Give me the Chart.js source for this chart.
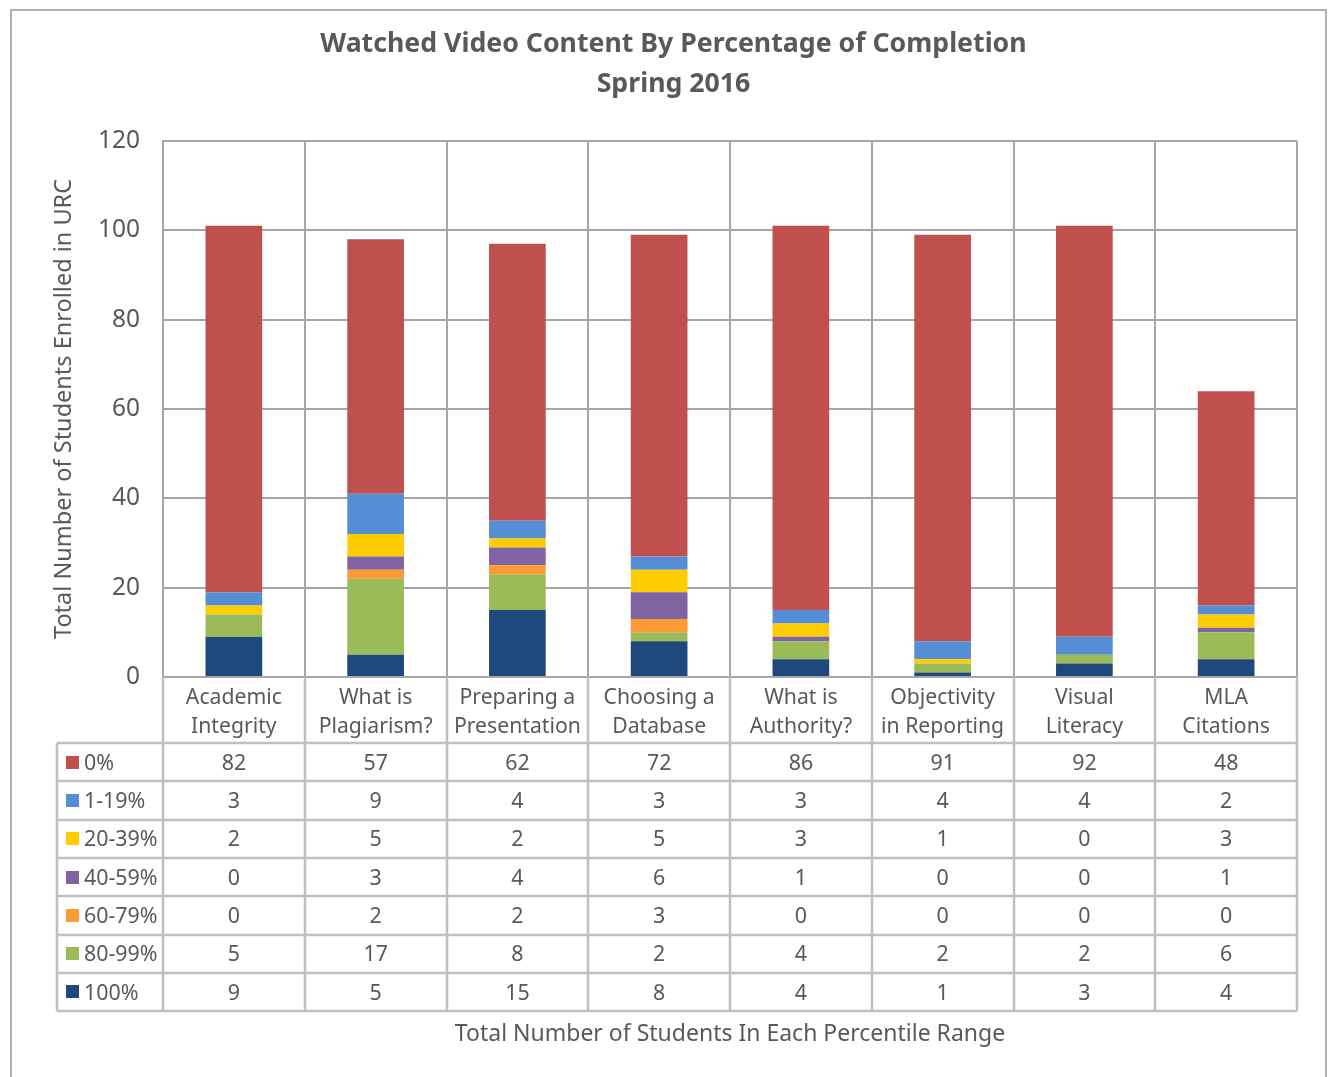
<!DOCTYPE html>
<html>
<head>
<meta charset="utf-8">
<script src="https://cdn.jsdelivr.net/npm/chart.js@4.4.1/dist/chart.umd.min.js"></script>
<style>
  html, body { margin: 0; padding: 0; background: #fff; }
  #wrap { width: 1329px; height: 1077px; }
</style>
</head>
<body>
<div id="wrap"><canvas id="videoChart"></canvas></div>
<script>
const categories = [["Academic", "Integrity"], ["What is", "Plagiarism?"], ["Preparing a", "Presentation"],
    ["Choosing a", "Database"], ["What is", "Authority?"], ["Objectivity", "in Reporting"],
    ["Visual", "Literacy"], ["MLA", "Citations"]];

// rows of the data table, top to bottom
const seriesNames = ["0%", "1-19%", "20-39%", "40-59%", "60-79%", "80-99%", "100%"];
const seriesColors = ["#C0504D", "#558ED5", "#FFCC00", "#8064A2", "#FF9933", "#9BBB59", "#1F497D"];

const pct0 = [82, 57, 62, 72, 86, 91, 92, 48];
const pct1to19 = [3, 9, 4, 3, 3, 4, 4, 2];
const pct20to39 = [2, 5, 2, 5, 3, 1, 0, 3];
const pct40to59 = [0, 3, 4, 6, 1, 0, 0, 1];
const pct60to79 = [0, 2, 2, 3, 0, 0, 0, 0];
const pct80to99 = [5, 17, 8, 2, 4, 2, 2, 6];
const pct100 = [9, 5, 15, 8, 4, 1, 3, 4];
const seriesValues = [pct0, pct1to19, pct20to39, pct40to59, pct60to79, pct80to99, pct100];

const yTicks = [0, 20, 40, 60, 80, 100, 120];

const FONT = "'Noto Sans', 'Open Sans', sans-serif";
const TEXT = "#595959";
const GRID = "#A6A6A6";
const TABLE_LINE = "#BFBFBF";

// stacked bottom-up: 100% first, 0% last
const datasets = [];
for (let i = seriesNames.length - 1; i >= 0; i--) {
  datasets.push({
    label: seriesNames[i],
    data: seriesValues[i],
    backgroundColor: seriesColors[i],
    borderWidth: 0,
    categoryPercentage: 1,
    barPercentage: 0.4,
  });
}

// data table + vertical cell lines + outer frame
const dataTable = {
  id: "dataTable",
  afterDraw(chart) {
    const ctx = chart.ctx;
    const area = chart.chartArea;
    const x = chart.scales.x;
    const n = categories.length;
    const colW = (area.right - area.left) / n;
    const tableTop = area.bottom + 66;
    const rowH = 38.3;
    const tableBottom = tableTop + rowH * seriesNames.length;
    const tableLeft = 57;

    ctx.save();
    // outer frame
    ctx.strokeStyle = "#AFAFAF";
    ctx.lineWidth = 2;
    ctx.strokeRect(11, 10, 1315, 1090);

    // vertical lines through plot, labels and table
    ctx.strokeStyle = GRID;
    ctx.lineWidth = 2;
    for (let i = 0; i <= n; i++) {
      const px = Math.round(area.left + i * colW);
      ctx.beginPath();
      ctx.moveTo(px, area.top);
      ctx.lineTo(px, area.bottom);
      ctx.stroke();
    }
    ctx.strokeStyle = TABLE_LINE;
    ctx.lineWidth = 2.5;
    for (let i = 0; i <= n; i++) {
      const px = Math.round(area.left + i * colW);
      ctx.beginPath();
      ctx.moveTo(px, area.bottom);
      ctx.lineTo(px, tableBottom);
      ctx.stroke();
    }
    ctx.beginPath();
    ctx.moveTo(tableLeft, tableTop);
    ctx.lineTo(tableLeft, tableBottom);
    ctx.stroke();
    for (let r = 0; r <= seriesNames.length; r++) {
      const py = Math.round(tableTop + r * rowH);
      ctx.beginPath();
      ctx.moveTo(tableLeft, py);
      ctx.lineTo(area.right, py);
      ctx.stroke();
    }

    // cells
    ctx.font = "21.4px " + FONT;
    ctx.fillStyle = TEXT;
    ctx.textBaseline = "middle";
    for (let r = 0; r < seriesNames.length; r++) {
      const cy = tableTop + r * rowH + rowH / 2 + 1.5;
      ctx.fillStyle = seriesColors[r];
      ctx.fillRect(66, Math.round(cy - 8), 13, 13);
      ctx.fillStyle = TEXT;
      ctx.textAlign = "left";
      ctx.fillText(seriesNames[r], 84, cy);
      ctx.textAlign = "center";
      for (let c = 0; c < n; c++) {
        ctx.fillText(String(seriesValues[r][c]), x.getPixelForValue(c), cy);
      }
    }
    ctx.restore();
  }
};

new Chart(document.getElementById("videoChart"), {
  type: "bar",
  data: { labels: categories, datasets: datasets },
  plugins: [dataTable],
  options: {
    responsive: true,
    maintainAspectRatio: false,
    animation: false,
    layout: { padding: { left: 50, right: 32, top: 0, bottom: 0 } },
    plugins: {
      legend: { display: false },
      tooltip: { enabled: false },
      title: {
        display: true,
        text: ["Watched Video Content By Percentage of Completion", "Spring 2016"],
        color: TEXT,
        font: { family: FONT, size: 26.7, weight: "bold", lineHeight: 40 / 26.7 },
        padding: { top: 24, bottom: 37 },
      },
    },
    scales: {
      x: {
        stacked: true,
        grid: { display: false, drawTicks: false },
        border: { display: false },
        ticks: {
          color: TEXT,
          padding: 6,
          maxRotation: 0,
          autoSkip: false,
          font: { family: FONT, size: 21.2, lineHeight: 29 / 21.2 },
        },
        title: {
          display: true,
          text: "Total Number of Students In Each Percentile Range",
          color: TEXT,
          font: { family: FONT, size: 23, lineHeight: 1.2 },
          padding: { top: 0, bottom: 29 },
        },
        afterFit(scale) { scale.height = 400; },
      },
      y: {
        stacked: true,
        min: 0,
        max: 120,
        afterBuildTicks(scale) { scale.ticks = yTicks.map(v => ({ value: v })); },
        grid: { color: GRID, lineWidth: 2, drawTicks: false },
        border: { display: true, color: GRID, width: 2 },
        ticks: {
          color: TEXT,
          padding: 23,
          font: { family: FONT, size: 24.5 },
        },
        title: {
          display: true,
          text: "Total Number of Students Enrolled in URC",
          color: TEXT,
          font: { family: FONT, size: 23.5, lineHeight: 1.2 },
          padding: 0,
        },
        afterFit(scale) { scale.width = 113; },
      },
    },
  },
});
</script>
</body>
</html>
